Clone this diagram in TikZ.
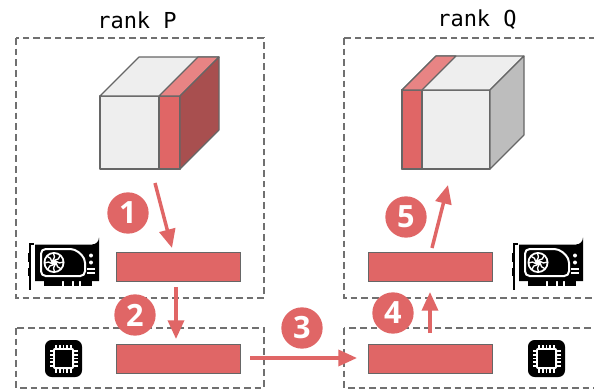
\documentclass[tikz,border=0pt]{standalone}
\usepackage{fontspec}
\setmainfont{Open Sans}
\newfontfamily\monofont{DejaVu Sans Mono}
\usetikzlibrary{arrows.meta}

\definecolor{bufred}{HTML}{E06666}
\definecolor{stripetop}{HTML}{E88484}
\definecolor{sidered}{HTML}{A84F4F}
\definecolor{sidegray}{HTML}{BDBDBD}
\definecolor{facegray}{HTML}{EEEEEE}
\definecolor{edgegray}{HTML}{666666}
\definecolor{boxgray}{HTML}{707070}

\tikzset{
  rankbox/.style={draw=boxgray, line width=0.8pt, dash pattern=on 5pt off 3pt},
  face/.style={draw=edgegray, line width=0.8pt, line join=round},
  buffer/.style={draw=edgegray, line width=0.7pt, fill=bufred, rectangle,
                 minimum width=93pt, minimum height=21.75pt, inner sep=0pt},
  numcirc/.style={circle, fill=bufred, text=white, minimum size=31pt, inner sep=0pt,
                  font=\bfseries\fontsize{23}{23}\selectfont},
  flow/.style={draw=bufred, line width=2.6pt, -{Triangle[length=14pt,width=12pt]}},
  ranklabel/.style={font=\monofont\fontsize{16.5}{16.5}\selectfont},
  gpu/.pic={
    % bracket
    \fill[black] (0,0) rectangle (2.2,47);
    \fill[black] (0,0) rectangle (5,2);
    \fill[black] (-1.5,10) rectangle (0.5,19);
    \fill[black] (-1.5,25) rectangle (0.5,33);
    % board
    \fill[black] (6,1.5) -- (63,1.5) arc[start angle=90,end angle=0,radius=7] -- (70,38) -- (6,38) -- cycle;
    % edge connector
    \fill[black] (15,38) rectangle (33,43);
    \fill[black] (35,38) rectangle (43,43);
    \fill[black] (45,38) rectangle (50,43);
    \fill[black] (52,38) rectangle (63,43);
    % cooler shroud outline
    \draw[white, line width=1.5pt, rounded corners=3.5pt]
      (12,6) -- (46,6) -- (56,15) -- (56,33) -- (12,33) -- cycle;
    % fan
    \fill[white] (25,19.5) circle[radius=10.5];
    \fill[black] (25,19.5) circle[radius=8.6];
    \foreach \a in {0,45,...,315}
      \draw[white, line width=1pt] (25,19.5) ++(\a:2) arc[start angle=\a+180, end angle=\a+100, radius=6.6];
    \fill[white] (25,19.5) circle[radius=2.8];
    % ports
    \fill[white] (62,12.5) circle[radius=2];
    \fill[white] (62,19.5) circle[radius=2];
    \fill[white] (57.5,25) rectangle (66,27.2);
    \fill[white] (57.5,29.2) rectangle (66,31.4);
  },
  cpu/.pic={
    \fill[black, rounded corners=5pt] (0,0) rectangle (37,37);
    \fill[white, rounded corners=1.5pt] (8,8) rectangle (29,29);
    \fill[black] (10,10) rectangle (27,27);
    \foreach \p in {11,14.75,18.5,22.25,26} {
      \fill[white] (\p-0.8,4.5) rectangle (\p+0.8,8.5);
      \fill[white] (\p-0.8,28.5) rectangle (\p+0.8,32.5);
      \fill[white] (4.5,\p-0.8) rectangle (8.5,\p+0.8);
      \fill[white] (28.5,\p-0.8) rectangle (32.5,\p+0.8);
    }
  }
}

\begin{document}
\begin{tikzpicture}[x=0.75pt, y=-0.75pt]
  \clip (0,0) rectangle (594,389);
  \fill[white] (0,0) rectangle (594,389);

  % rank labels
  \node[ranklabel] (rankP) at (137,20) {rank P};
  \node[ranklabel] (rankQ) at (477,20) {rank Q};

  % dashed boundaries: GPU memory and host memory of each rank
  \draw[rankbox] (16,38) rectangle (264,298);
  \draw[rankbox] (16,328) rectangle (264,388);
  \draw[rankbox] (344,38) rectangle (610,298);
  \draw[rankbox] (344,328) rectangle (610,388);

  % rank P tensor, boundary slab on the right
  \draw[face, fill=facegray] (100,96) rectangle (180,169);
  \draw[face, fill=bufred] (159,96) rectangle (180,169);
  \draw[face, fill=facegray] (100,96) -- (139,57) -- (219,57) -- (180,96) -- cycle;
  \draw[face, fill=stripetop] (159,96) -- (198,57) -- (219,57) -- (180,96) -- cycle;
  \draw[face, fill=sidered] (180,96) -- (219,57) -- (219,130) -- (180,169) -- cycle;

  % rank Q tensor, halo slab on the left
  \draw[face, fill=facegray] (402,90) rectangle (490,169);
  \draw[face, fill=bufred] (402,90) rectangle (422,169);
  \draw[face, fill=facegray] (402,90) -- (436,56) -- (524,56) -- (490,90) -- cycle;
  \draw[face, fill=stripetop] (402,90) -- (436,56) -- (456,56) -- (422,90) -- cycle;
  \draw[face, fill=sidegray] (490,90) -- (524,56) -- (524,135) -- (490,169) -- cycle;

  % buffers
  \node[buffer] (gpuP) at (178,266.5) {};
  \node[buffer] (cpuP) at (178,358.5) {};
  \node[buffer] (gpuQ) at (430,266.5) {};
  \node[buffer] (cpuQ) at (430,358.5) {};

  % device icons
  \pic at (29,243) {gpu};
  \pic at (513,243) {gpu};
  \pic at (45,340) {cpu};
  \pic at (528,340) {cpu};

  % arrow end points
  \coordinate (a1s) at (155,183);
  \coordinate (a1e) at (172,248);
  \coordinate (a2s) at (176,287);
  \coordinate (a2e) at (176,339);
  \coordinate (a3s) at (250,358);
  \coordinate (a3e) at (357,358);
  \coordinate (a4s) at (430,333);
  \coordinate (a4e) at (430,292);
  \coordinate (a5s) at (432,248);
  \coordinate (a5e) at (448,185);

  \draw[flow] (a1s) -- (a1e);
  \draw[flow] (a2s) -- (a2e);
  \draw[flow] (a3s) -- (a3e);
  \draw[flow] (a4s) -- (a4e);
  \draw[flow] (a5s) -- (a5e);

  % step numbers
  \node[numcirc] (n1) at (128,213) {1};
  \node[numcirc] (n2) at (135,315) {2};
  \node[numcirc] (n3) at (302,328) {3};
  \node[numcirc] (n4) at (393,313) {4};
  \node[numcirc] (n5) at (406,217) {5};
\end{tikzpicture}
\end{document}
